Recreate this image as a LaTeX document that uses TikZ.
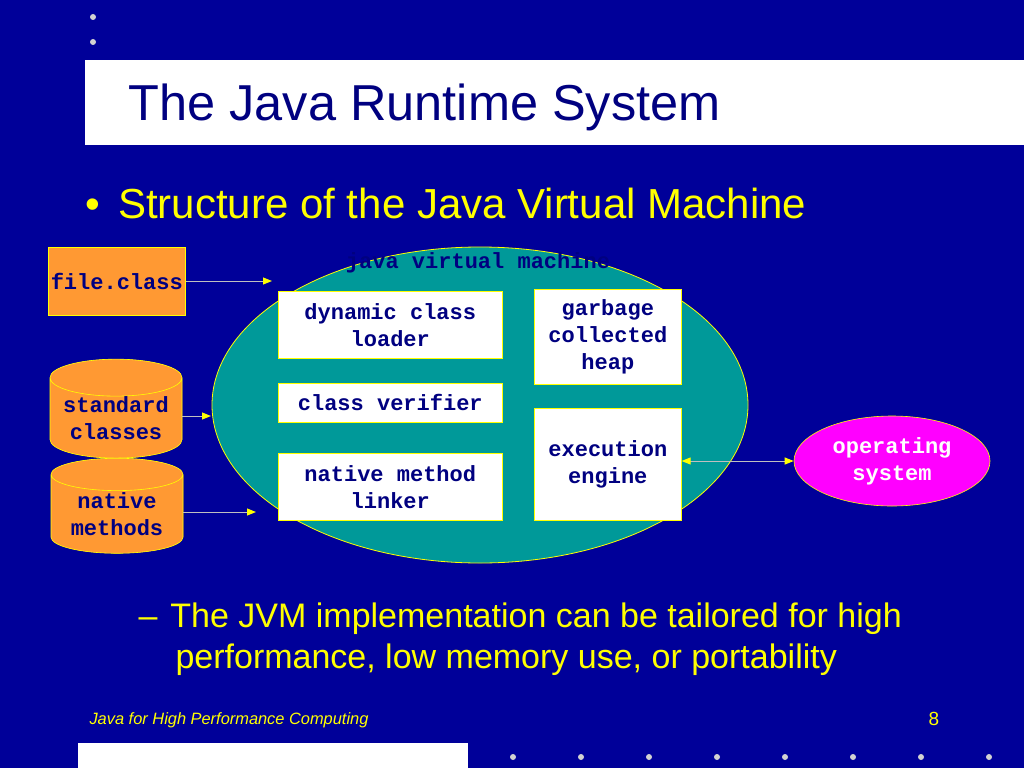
\documentclass[tikz,border=0pt]{standalone}
\usepackage{fontspec}
\setmainfont{Liberation Sans}
\newfontfamily\monob{Liberation Mono}[BoldFont={Liberation Mono Bold}]
\usetikzlibrary{shapes.geometric,arrows.meta}
\definecolor{bg}{RGB}{0,0,153}
\definecolor{ink}{RGB}{0,0,128}
\definecolor{org}{RGB}{255,153,51}
\definecolor{teal}{RGB}{0,153,153}
\definecolor{yel}{RGB}{255,255,0}
\definecolor{mag}{RGB}{255,0,255}
\begin{document}
\begin{tikzpicture}[x=1pt,y=-1pt,
  mono/.style={font=\monob\bfseries\fontsize{22}{27}\selectfont, text=ink, align=center},
  wbox/.style={mono, draw=yel, line width=0.6pt, fill=white, inner sep=0pt},
  obox/.style={mono, draw=yel, line width=0.6pt, fill=org, inner sep=0pt},
  cyl/.style={mono, cylinder, shape border rotate=90, aspect=0.35, draw=yel, line width=0.6pt, fill=org, cylinder uses custom fill, cylinder body fill=org, cylinder end fill=org!70!white, minimum width=132pt, inner sep=0pt},
  tip/.tip={Triangle[color=yel,length=9pt,width=7pt]},
  conn/.style={draw=gray!50, line width=1pt, -tip},
  dot/.style={fill=gray!35, circle, inner sep=0pt, minimum size=6pt}]
\fill[bg] (0,0) rectangle (1024,768);
\useasboundingbox (0,0) rectangle (1024,768);
\node[dot] (d1) at (93,17) {};
\node[dot] (d2) at (93,42) {};
\fill[white] (85,60) rectangle (1024,145);
\node[anchor=base west, text=ink, font=\fontsize{50.5}{60}\selectfont] (title) at (125,120) {The Java Runtime System};
\node[anchor=base west, text=yel, font=\fontsize{42}{50}\selectfont] (b1) at (82,218) {•\hspace{18pt}Structure of the Java Virtual Machine};
% JVM ellipse
\node[ellipse, draw=yel, line width=0.8pt, fill=teal, minimum width=536pt, minimum height=316pt] (jvm) at (480,405) {};
\node[mono, anchor=center] (jvml) at (478,263) {java virtual machine};
\node[wbox, minimum width=224pt, minimum height=67pt, anchor=north west] (dcl) at (278,291) {dynamic class\\loader};
\node[wbox, minimum width=224pt, minimum height=39pt, anchor=north west] (cv) at (278,383) {class verifier};
\node[wbox, minimum width=224pt, minimum height=67pt, anchor=north west] (nml) at (278,453) {native method\\linker};
\node[wbox, minimum width=147pt, minimum height=95pt, anchor=north west] (gch) at (534,289) {garbage\\collected\\heap};
\node[wbox, minimum width=147pt, minimum height=112pt, anchor=north west] (ee) at (534,408) {execution\\engine};
% inputs
\node[obox, minimum width=137pt, minimum height=68pt, anchor=north west] (fc) at (48,247) {file.class};
\node[cyl, minimum height=97pt] (sc) at (116,418) {standard\\classes};
\node[cyl, minimum height=95pt] (nm) at (117,514) {native\\methods};
\node[ellipse, draw=yel, line width=0.6pt, fill=mag, minimum width=196pt, minimum height=90pt, mono, text=white] (os) at (892,461) {operating\\system};
\coordinate (t1) at (272,281);
\coordinate (t2) at (211,416);
\coordinate (t3) at (256,512);
\draw[conn] (fc.east |- t1) -- (t1);
\draw[conn] (sc.east |- t2) -- (t2);
\draw[conn] (nm.east |- t3) -- (t3);
\draw[conn, tip-tip] (ee.east |- os) -- (os.west);
% sub bullet
\node[anchor=base west, text=yel, font=\fontsize{34}{41}\selectfont, align=left] (sb) at (135,668) {–\hspace{13pt}The JVM implementation can be tailored for high\\\hspace{37pt}performance, low memory use, or portability};
\node[anchor=base west, text=yel, font=\itshape\fontsize{16.4}{20}\selectfont] (ft) at (86,724) {Java for High Performance Computing};
\node[anchor=base west, text=yel, font=\fontsize{19}{22}\selectfont] (pg) at (925,725) {8};
\fill[white] (78,743) rectangle (468,768);
\foreach \i in {0,...,7} \node[dot] (bd\i) at (513+68*\i,757) {};
\end{tikzpicture}
\end{document}
